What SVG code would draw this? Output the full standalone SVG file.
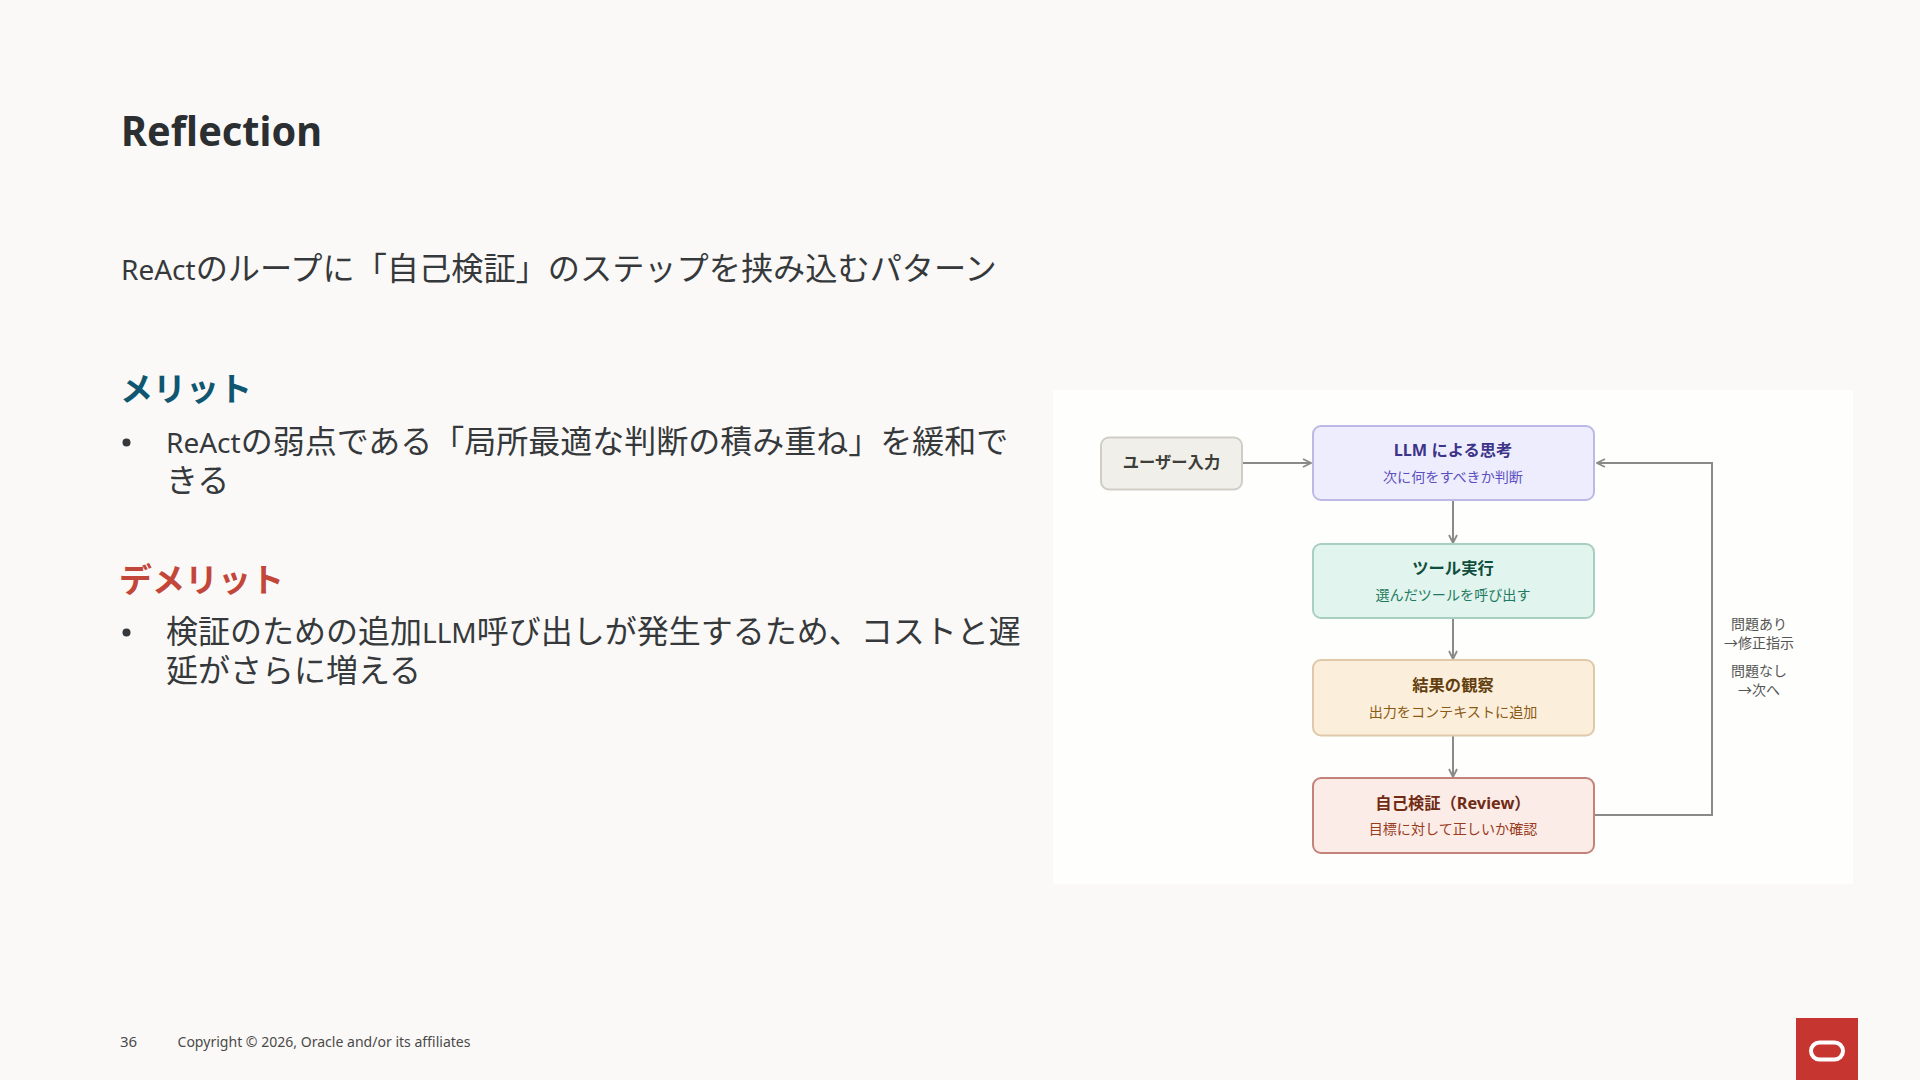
<svg xmlns="http://www.w3.org/2000/svg" width="1920" height="1080" viewBox="0 0 1920 1080">
<defs>
<style>
text{font-family:"Noto Sans","Noto Sans CJK JP",sans-serif}
.h{font-size:33px;font-weight:700}
.b{font-size:32px;fill:#36393b}
.la{font-size:28px}
.c{text-anchor:middle}
.t{font-size:16.300px;font-weight:700}
.s{font-size:14.100px}
.l{font-size:14px;fill:#555;text-anchor:middle}
.f{font-size:15px;fill:#4a4a48}
.e{fill:none;stroke:#8a8a86;stroke-width:2}
.n{stroke-width:2}
</style>
<marker id="a" viewBox="0 0 10 10" refX="9" refY="5" markerWidth="10" markerHeight="10" markerUnits="userSpaceOnUse" orient="auto"><path d="M1 1L9 5L1 9" fill="none" stroke="#8a8a86" stroke-width="1.8"/></marker>
</defs>
<rect width="1920" height="1080" fill="#fbf9f8"/>
<text x="121" y="146" font-size="42" font-weight="700" fill="#2b2f31" textLength="201" lengthAdjust="spacingAndGlyphs">Reflection</text>
<text x="121" y="280" class="b" style="font-size:32.200px"><tspan class="la">ReAct</tspan>のループに「自己検証」のステップを挟み込むパターン</text>
<text x="120" y="401" class="h" fill="#0f5670">メリット</text>
<circle cx="126.500" cy="442.500" r="4" fill="#36393b"/>
<text x="166" y="453" class="b"><tspan class="la">ReAct</tspan>の弱点である「局所最適な判断の積み重ね」を緩和で</text>
<text x="166" y="492" class="b">きる</text>
<text x="119" y="592" class="h" fill="#c2473a">デメリット</text>
<circle cx="126.500" cy="632.500" r="4" fill="#36393b"/>
<text x="166" y="643" class="b">検証のための追加<tspan class="la">LLM</tspan>呼び出しが発生するため、コストと遅</text>
<text x="166" y="682" class="b">延がさらに増える</text>
<rect x="1053" y="390" width="800" height="494" fill="#fefefc"/>
<g id="connectors">
<path class="e" d="M1242 463H1311" marker-end="url(#a)"/>
<path class="e" d="M1453 501V543" marker-end="url(#a)"/>
<path class="e" d="M1453 618V659" marker-end="url(#a)"/>
<path class="e" d="M1453 736V777" marker-end="url(#a)"/>
<path class="e" d="M1595 815H1712V463H1597" marker-end="url(#a)"/>
</g>
<g id="node-input"><rect class="n" x="1101" y="437.500" width="141" height="52" rx="8" fill="#f1efe9" stroke="#cfcdc6"/><text x="1171.500" y="468" class="t c" fill="#3d3d3a">ユーザー入力</text></g>
<g id="node-think"><rect class="n" x="1313" y="426" width="281" height="74" rx="8" fill="#eeedfd" stroke="#bdb9e6"/><text x="1453" y="456" class="t c" fill="#3c3489">LLM による思考</text><text x="1453" y="482" class="s c" fill="#5b50c0">次に何をすべきか判断</text></g>
<g id="node-tool"><rect class="n" x="1313" y="544" width="281" height="74" rx="8" fill="#e1f5ee" stroke="#a8cfc1"/><text x="1453" y="574" class="t c" fill="#0f4d3c">ツール実行</text><text x="1453" y="600" class="s c" fill="#1f7a5f">選んだツールを呼び出す</text></g>
<g id="node-observe"><rect class="n" x="1313" y="660" width="281" height="75.500" rx="8" fill="#fbeedb" stroke="#dfc9aa"/><text x="1453" y="691" class="t c" fill="#633f0f">結果の観察</text><text x="1453" y="717" class="s c" fill="#8a5a14">出力をコンテキストに追加</text></g>
<g id="node-review"><rect class="n" x="1313" y="778" width="281" height="75" rx="8" fill="#fbece8" stroke="#c4837a"/><text x="1453" y="809" class="t c" fill="#712b13">自己検証（Review）</text><text x="1453" y="834" class="s c" fill="#993c1d">目標に対して正しいか確認</text></g>
<g id="loop-label"><text x="1759" y="629" class="l">問題あり</text><text x="1759" y="648" class="l">→修正指示</text><text x="1759" y="676" class="l">問題なし</text><text x="1759" y="695" class="l">→次へ</text></g>
<text x="120" y="1047" class="f">36</text>
<text x="177.500" y="1047" class="f" textLength="293" lengthAdjust="spacingAndGlyphs">Copyright © 2026, Oracle and/or its affiliates</text>
<g id="logo"><rect x="1796" y="1018" width="62" height="62" fill="#c63530"/><rect x="1811" y="1042.500" width="32" height="17" rx="8.500" fill="none" stroke="#fff" stroke-width="4"/></g>
</svg>
